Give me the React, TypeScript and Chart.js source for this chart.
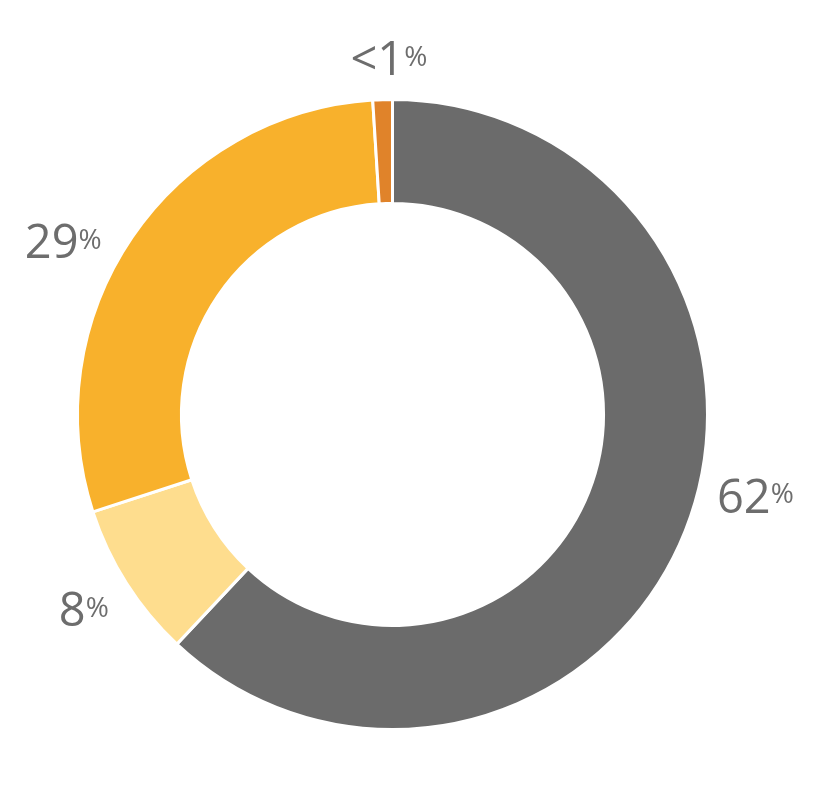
import React, { useEffect, useRef } from "react";
import { Chart, registerables } from "chart.js";

Chart.register(...registerables);

const categories = ["A", "B", "C", "D"];
const values = [62, 8, 29, 1];
const labelTexts = ["62", "8", "29", "<1"];
const colors = ["#6b6b6b", "#fedd8e", "#f8b12c", "#e0832a"];

const labelPlugin = {
  id: "outerLabels",
  afterDatasetsDraw(chart: any, _args: any, opts: any) {
    const ctx = chart.ctx;
    const meta = chart.getDatasetMeta(0);
    const place = opts.place || [];
    meta.data.forEach((arc: any, i: number) => {
      const p = place[i] || { t: 0.5, r: 365 };
      const { x, y, startAngle, endAngle } = arc.getProps(["x", "y", "startAngle", "endAngle"], true);
      const a = startAngle + p.t * (endAngle - startAngle);
      const px = x + p.r * Math.cos(a);
      const py = y + p.r * Math.sin(a);
      const num = labelTexts[i];
      ctx.save();
      ctx.fillStyle = "#6d6d6d";
      ctx.textBaseline = "alphabetic";
      const bigSize = 47;
      const smallSize = 28;
      const bigFont = bigSize + "px 'Open Sans'";
      const smallFont = smallSize + "px 'Open Sans'";
      ctx.font = bigFont;
      const w1 = ctx.measureText(num).width;
      ctx.font = smallFont;
      const w2 = ctx.measureText("%").width;
      const gap = 0;
      const total = w1 + gap + w2;
      const left = px - total / 2;
      const capH = bigSize * 0.714;
      const base = py + capH / 2;
      ctx.textAlign = "left";
      ctx.font = bigFont;
      ctx.fillText(num, left, base);
      ctx.font = smallFont;
      ctx.fillText("%", left + w1 + gap, base - capH + 4 + smallSize * 0.714);
      ctx.restore();
    });
  },
};

export default function App() {
  const ref = useRef<HTMLCanvasElement | null>(null);
  useEffect(() => {
    if (!ref.current) return;
    const chart = new Chart(ref.current, {
      type: "doughnut",
      data: {
        labels: categories,
        datasets: [
          {
            data: values,
            backgroundColor: colors,
            borderColor: "#ffffff",
            borderWidth: 3,
          },
        ],
      },
      options: {
        animation: false,
        responsive: true,
        maintainAspectRatio: false,
        cutout: "67%",
        layout: { padding: { left: 76, top: 98, right: 107, bottom: 69 } },
        plugins: {
          legend: { display: false },
          tooltip: { enabled: false },
          outerLabels: {
            place: [
              { t: 0.46, r: 372 },
              { t: 0.505, r: 365 },
              { t: 0.438, r: 372 },
              { t: 0.84, r: 356 },
            ],
          },
        } as any,
      },
      plugins: [labelPlugin],
    });
    return () => chart.destroy();
  }, []);
  return (
    <div style={{ position: "absolute", left: 0, top: 0, width: 816, height: 800 }}>
      <canvas ref={ref} />
    </div>
  );
}
